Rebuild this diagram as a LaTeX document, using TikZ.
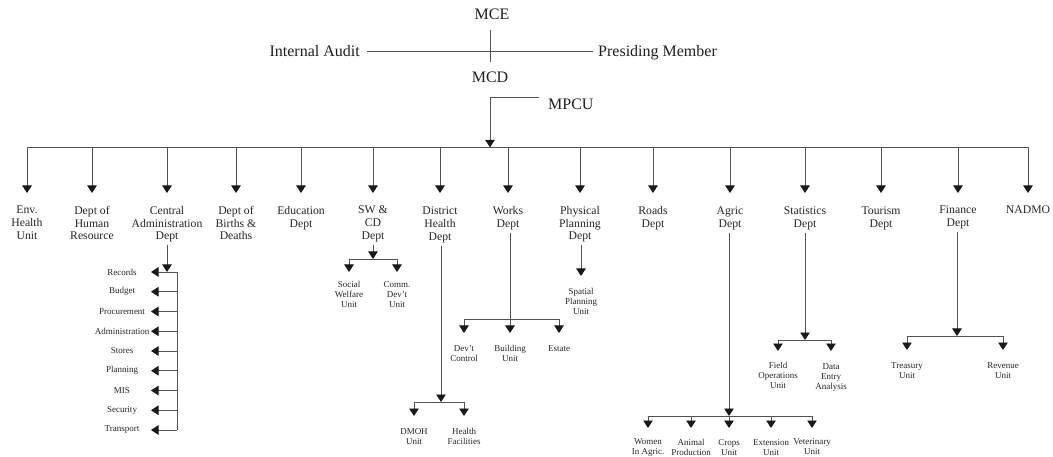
\documentclass[tikz,border=0pt]{standalone}
\usepackage{fontspec}
\setmainfont{Liberation Serif}
\usetikzlibrary{arrows.meta}
\begin{document}
\begin{tikzpicture}[x=1pt,y=-1pt,
  line/.style={draw=black!68, line width=0.9pt},
  arr/.style={line, -{Triangle[width=9.5pt,length=7.5pt,color=black!90]}},
  toplbl/.style={font=\fontsize{16}{18}\selectfont, inner sep=0pt, text=black!88},
  dept/.style={font=\fontsize{11.7}{12.7}\selectfont, align=center, inner sep=0pt, anchor=north, text=black!85},
  unit/.style={font=\fontsize{9}{10}\selectfont, align=center, inner sep=0pt, anchor=north, text=black!85},
  cunit/.style={font=\fontsize{9}{10}\selectfont, inner sep=0pt, text=black!85},
]
\useasboundingbox (0,0) rectangle (1053,457);

% ---- top level
\node[toplbl, anchor=base] (mce) at (492,20) {MCE};
\node[toplbl, anchor=base] (mcd) at (490,83) {MCD};
\node[toplbl, anchor=base east] (ia) at (360,57) {Internal Audit};
\node[toplbl, anchor=base west] (pm) at (598,57) {Presiding Member};
\node[toplbl, anchor=base west] (mpcu) at (548,110) {MPCU};

\draw[line] ([yshift=-10pt]mce.south -| mcd.south) -- ([yshift=10pt]mcd.north);
\draw[line] ([xshift=7pt]ia.east) -- ([xshift=-5pt]ia.east -| pm.west);

\coordinate (j) at ([yshift=-14pt]mcd.south);
\coordinate (bus) at ([yshift=-64pt]mcd.south);
\draw[line] (j) -- ([xshift=-9pt]j -| mpcu.west);
\draw[arr] (j) -- (bus);

% ---- departments
\node[dept] (envh)  at (27,206)  {Env.\\Health\\Unit};
\node[dept] (dhr)   at (92,206)  {Dept of\\Human\\Resource};
\node[dept] (cad)   at (167,206) {Central\\Administration\\Dept};
\node[dept] (dbd)   at (236,206) {Dept of\\Births \&\\Deaths};
\node[dept] (edu)   at (301,206) {Education\\Dept};
\node[dept] (swcd)  at (373,206) {SW \&\\CD\\Dept};
\node[dept] (dhd)   at (440,207) {District\\Health\\Dept};
\node[dept] (works) at (508,206) {Works\\Dept};
\node[dept] (ppd)   at (580,206) {Physical\\Planning\\Dept};
\node[dept] (roads) at (653,206) {Roads\\Dept};
\node[dept] (agric) at (730,207) {Agric\\Dept};
\node[dept] (stat)  at (805,207) {Statistics\\Dept};
\node[dept] (tour)  at (881,207) {Tourism\\Dept};
\node[dept] (fin)   at (958,206) {Finance\\Dept};
\node[dept] (nadmo) at (1028,206) {NADMO};

\draw[line] (envh.north |- bus) -- (nadmo.north |- bus);
\foreach \d in {envh,dhr,cad,dbd,edu,swcd,dhd,works,ppd,roads,agric,stat,tour,fin,nadmo}
  \draw[arr] (\d.north |- bus) -- ([yshift=13pt]\d.north |- 0,206);

% ---- Central Administration units
\coordinate (spine) at (177,272);
\coordinate (tip) at (151,272);
\foreach \n/\t/\k in {rec/Records/0, bud/Budget/1, pro/Procurement/2, adm/Administration/3,
    sto/Stores/4, pla/Planning/5, mis/MIS/6, sec/Security/7, tra/Transport/8}{
  \node[cunit] (\n) at (122,{272+19.75*\k}) {\t};
  \draw[arr] (\n -| spine) -- (\n -| tip);
}
\draw[line] (rec -| spine) -- (tra -| spine);
\draw[arr] ([yshift=-3pt]cad.south) -- (cad.south |- rec);

% ---- SW & CD units
\coordinate (gsw) at (373,259);
\node[unit] (sw) at (349,281) {Social\\Welfare\\Unit};
\node[unit] (cd) at (397,281) {Comm.\\Dev’t\\Unit};
\draw[arr] ([yshift=-3pt]gsw |- swcd.south) -- (gsw);
\draw[line] (sw.north |- gsw) -- (cd.north |- gsw);
\foreach \c in {sw,cd} \draw[arr] (\c.north |- gsw) -- ([yshift=9pt]\c.north);

% ---- District Health units
\coordinate (gdh) at (441,402);
\node[unit] (dmoh) at (414,428) {DMOH\\Unit};
\node[unit] (hf) at (464,428) {Health\\Facilities};
\draw[arr] ([yshift=-3pt]gdh |- dhd.south) -- (gdh);
\draw[line] (dmoh.north |- gdh) -- (hf.north |- gdh);
\foreach \c in {dmoh,hf} \draw[arr] (\c.north |- gdh) -- ([yshift=12pt]\c.north);

% ---- Works units
\coordinate (gw) at (510,319);
\node[unit] (dc) at (464,345) {Dev’t\\Control};
\node[unit] (bu) at (510,345) {Building\\Unit};
\node[unit] (est) at (559,345) {Estate};
\draw[line] ([yshift=-3pt]gw |- works.south) -- (gw);
\draw[line] (dc.north |- gw) -- (est.north |- gw);
\foreach \c in {dc,bu,est} \draw[arr] (\c.north |- gw) -- ([yshift=12pt]\c.north);

% ---- Physical Planning unit
\node[unit] (spu) at (581,288) {Spatial\\Planning\\Unit};
\draw[arr] ([yshift=-3pt]spu.north |- ppd.south) -- ([yshift=12pt]spu.north);

% ---- Agric units
\coordinate (ga) at (729,416);
\node[unit] (wa) at (648,438) {Women\\In Agric.};
\node[unit] (ap) at (691,439) {Animal\\Production};
\node[unit] (cu) at (729,439) {Crops\\Unit};
\node[unit] (eu) at (771,439) {Extension\\Unit};
\node[unit] (vu) at (812,438) {Veterinary\\Unit};
\draw[arr] ([yshift=-3pt]ga |- agric.south) -- (ga);
\draw[line] (wa.north |- ga) -- (vu.north |- ga);
\foreach \c in {wa,ap,cu,eu,vu} \draw[arr] (\c.north |- ga) -- (\c.north |- 0,428);

% ---- Statistics units
\coordinate (gs) at (805,340);
\node[unit] (fo) at (778,362) {Field\\Operations\\Unit};
\node[unit] (de) at (831,363) {Data\\Entry\\Analysis};
\draw[arr] ([yshift=-3pt]gs |- stat.south) -- (gs);
\draw[line] (fo.north |- gs) -- (de.north |- gs);
\foreach \c in {fo,de} \draw[arr] (\c.north |- gs) -- (\c.north |- 0,351);

% ---- Finance units
\coordinate (gf) at (957,336);
\node[unit] (tre) at (907,362) {Treasury\\Unit};
\node[unit] (rev) at (1003,362) {Revenue\\Unit};
\draw[arr] ([yshift=-3pt]gf |- fin.south) -- (gf);
\draw[line] (tre.north |- gf) -- (rev.north |- gf);
\foreach \c in {tre,rev} \draw[arr] (\c.north |- gf) -- (\c.north |- 0,350);
\end{tikzpicture}
\end{document}
